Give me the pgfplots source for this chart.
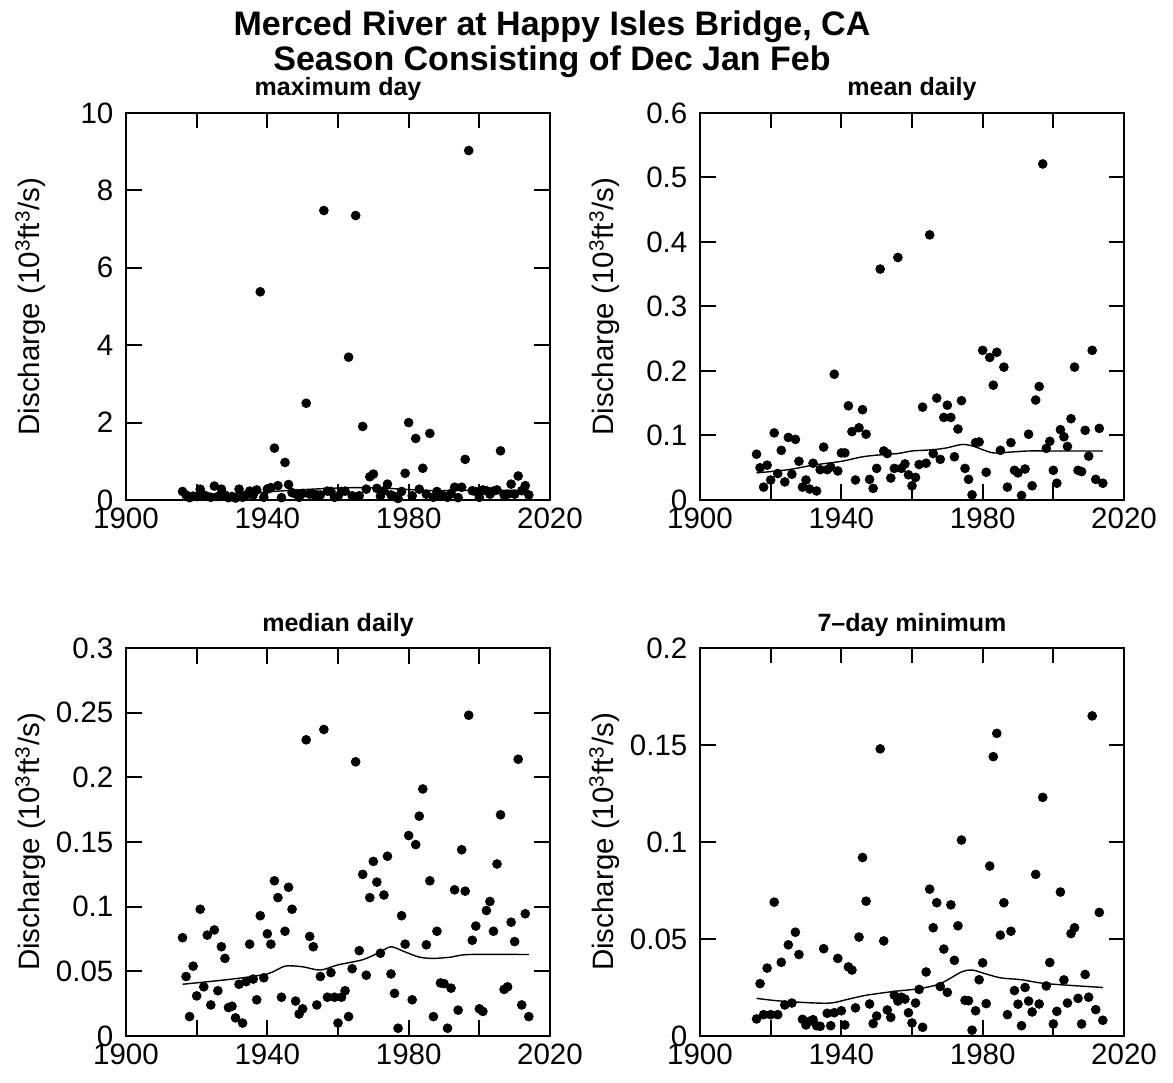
\documentclass[border=0pt]{standalone}
\usepackage{fontspec}
\setmainfont{Liberation Sans}
\usepackage{pgfplots}
\usepackage{pgfplotstable}
\pgfplotsset{compat=1.18}

\pgfplotstableread{
year max mean median min7
1916 0.22 0.071 0.076 0.0088
1917 0.13 0.050 0.046 0.027
1918 0.06 0.020 0.015 0.011
1919 0.10 0.054 0.054 0.035
1920 0.09 0.031 0.031 0.011
1921 0.28 0.104 0.098 0.069
1922 0.13 0.041 0.038 0.011
1923 0.09 0.077 0.078 0.038
1924 0.07 0.028 0.024 0.016
1925 0.36 0.097 0.082 0.047
1926 0.09 0.040 0.035 0.017
1927 0.28 0.094 0.069 0.0535
1928 0.13 0.060 0.060 0.042
1929 0.06 0.020 0.022 0.0086
1930 0.09 0.031 0.023 0.0057
1931 0.05 0.017 0.014 0.0076
1932 0.28 0.057 0.040 0.0084
1933 0.07 0.014 0.010 0.0053
1934 0.13 0.047 0.042 0.005
1935 0.23 0.082 0.071 0.045
1936 0.13 0.047 0.044 0.0117
1937 0.26 0.051 0.028 0.0053
1938 5.38 0.195 0.093 0.012
1939 0.07 0.045 0.045 0.040
1940 0.28 0.073 0.079 0.013
1941 0.32 0.073 0.071 0.0057
1942 1.34 0.146 0.120 0.0356
1943 0.37 0.106 0.107 0.034
1944 0.06 0.031 0.030 0.0145
1945 0.97 0.112 0.081 0.051
1946 0.40 0.140 0.115 0.092
1947 0.19 0.102 0.098 0.0695
1948 0.16 0.032 0.027 0.0165
1949 0.07 0.018 0.017 0.0064
1950 0.17 0.049 0.021 0.0103
1951 2.50 0.358 0.229 0.148
1952 0.15 0.076 0.077 0.049
1953 0.15 0.072 0.069 0.0134
1954 0.13 0.034 0.024 0.0096
1955 0.13 0.049 0.046 0.021
1956 7.48 0.376 0.237 0.018
1957 0.23 0.049 0.030 0.020
1958 0.22 0.056 0.049 0.019
1959 0.07 0.039 0.030 0.012
1960 0.09 0.022 0.010 0.0067
1961 0.22 0.035 0.030 0.017
1962 0.23 0.055 0.035 0.024
1963 3.69 0.144 0.015 0.0045
1964 0.11 0.057 0.052 0.033
1965 7.35 0.411 0.212 0.0757
1966 0.11 0.072 0.066 0.0558
1967 1.90 0.158 0.125 0.0687
1968 0.28 0.063 0.047 0.0255
1969 0.60 0.128 0.107 0.0448
1970 0.67 0.147 0.135 0.0225
1971 0.30 0.128 0.119 0.0676
1972 0.10 0.067 0.064 0.039
1973 0.24 0.110 0.109 0.0568
1974 0.41 0.154 0.139 0.101
1975 0.13 0.049 0.048 0.0184
1976 0.09 0.032 0.033 0.0182
1977 0.04 0.008 0.006 0.003
1978 0.22 0.089 0.093 0.013
1979 0.69 0.090 0.071 0.029
1980 2.00 0.232 0.155 0.0377
1981 0.11 0.043 0.028 0.0167
1982 1.59 0.221 0.148 0.0876
1983 0.28 0.178 0.170 0.144
1984 0.82 0.229 0.191 0.156
1985 0.15 0.077 0.0705 0.052
1986 1.72 0.206 0.120 0.0687
1987 0.07 0.020 0.015 0.011
1988 0.22 0.089 0.081 0.054
1989 0.13 0.046 0.041 0.0234
1990 0.10 0.042 0.0405 0.0164
1991 0.07 0.007 0.006 0.0053
1992 0.17 0.048 0.037 0.025
1993 0.33 0.102 0.113 0.018
1994 0.06 0.022 0.020 0.0124
1995 0.33 0.155 0.144 0.0833
1996 1.05 0.176 0.112 0.0165
1997 9.03 0.521 0.248 0.123
1998 0.24 0.080 0.074 0.0258
1999 0.22 0.091 0.085 0.0379
2000 0.07 0.046 0.021 0.0062
2001 0.26 0.026 0.019 0.0127
2002 0.24 0.109 0.097 0.0742
2003 0.15 0.098 0.104 0.0289
2004 0.23 0.083 0.081 0.017
2005 0.26 0.126 0.133 0.0528
2006 1.27 0.206 0.171 0.0558
2007 0.13 0.046 0.036 0.0194
2008 0.15 0.044 0.038 0.0062
2009 0.41 0.108 0.088 0.0317
2010 0.15 0.068 0.073 0.020
2011 0.62 0.232 0.214 0.165
2012 0.24 0.032 0.024 0.0136
2013 0.37 0.111 0.0945 0.0637
2014 0.13 0.026 0.015 0.0081
}\flow

\pgfplotsset{
  panel/.style={
    scale only axis, width=212pt, height=193.5pt,
    xmin=1900, xmax=2020,
    xtick={1900,1920,...,2020},
    xticklabels={1900,,1940,,1980,,2020},
    tick align=inside, tick pos=both,
    major tick length=7.75pt,
    axis line style={line width=1pt},
    every tick/.style={black, line width=1pt},
    tick label style={font=\fontsize{14.75}{17}\selectfont},
    xticklabel style={yshift=-0.5pt},
    yticklabel style={xshift=-2.8pt},
    ylabel={Discharge (10\textsuperscript{3}ft\textsuperscript{3}/s)},
    ylabel style={at={(axis description cs:-0.225,0.5)}, anchor=center, font=\fontsize{14.75}{17}\selectfont},
    title style={at={(axis description cs:0.5,1)}, anchor=base, yshift=2.5pt, font=\bfseries\fontsize{12.5}{15}\selectfont},
  },
  dots/.style={only marks, mark=*, mark size=2.2pt, black},
  trend/.style={no marks, smooth, black, line width=0.7pt},
}

\begin{document}
\begin{tikzpicture}
\useasboundingbox (0,0) rectangle (586.5pt,541pt);
\node[anchor=base, font=\bfseries\fontsize{17}{20}\selectfont] at (276pt,523pt) {Merced River at Happy Isles Bridge, CA};
\node[anchor=base, font=\bfseries\fontsize{17}{20}\selectfont] at (276pt,505.5pt) {Season Consisting of Dec Jan Feb};

\begin{axis}[panel, at={(63pt,291pt)}, anchor=south west,
  title={maximum day}, ymin=0, ymax=10, ytick={0,2,4,6,8,10}, yticklabels={0,2,4,6,8,10}]
\addplot[dots] table[x=year, y=max] {\flow};
\addplot[trend] coordinates {(1916,0.14)(1925,0.15)(1935,0.18)(1945,0.24)(1955,0.29)(1965,0.32)(1972,0.31)(1980,0.27)(1988,0.24)(1995,0.25)(2005,0.25)(2014,0.25)};
\end{axis}

\begin{axis}[panel, at={(350pt,291pt)}, anchor=south west,
  title={mean daily}, ymin=0, ymax=0.6, ytick={0,0.1,0.2,0.3,0.4,0.5,0.6}, yticklabels={0,0.1,0.2,0.3,0.4,0.5,0.6}]
\addplot[dots] table[x=year, y=mean] {\flow};
\addplot[trend] coordinates {(1916,0.042)(1925,0.047)(1932,0.054)(1940,0.060)(1946,0.067)(1951,0.070)(1956,0.072)(1960,0.076)(1966,0.078)(1970,0.081)(1974,0.086)(1977,0.084)(1980,0.078)(1983,0.073)(1987,0.074)(1993,0.076)(2000,0.076)(2014,0.076)};
\end{axis}

\begin{axis}[panel, at={(63pt,23pt)}, anchor=south west, height=194pt,
  title={median daily}, ymin=0, ymax=0.3, ytick={0,0.05,0.1,0.15,0.2,0.25,0.3}, yticklabels={0,0.05,0.1,0.15,0.2,0.25,0.3}]
\addplot[dots] table[x=year, y=median] {\flow};
\addplot[trend] coordinates {(1916,0.040)(1930,0.044)(1940,0.048)(1945,0.054)(1950,0.0535)(1955,0.051)(1960,0.055)(1967,0.059)(1972,0.065)(1975,0.069)(1979,0.065)(1983,0.061)(1987,0.060)(1992,0.061)(1997,0.063)(2014,0.063)};
\end{axis}

\begin{axis}[panel, at={(350pt,23pt)}, anchor=south west, height=194pt,
  title={7--day minimum}, ymin=0, ymax=0.2, ytick={0,0.05,0.1,0.15,0.2}, yticklabels={0,0.05,0.1,0.15,0.2}]
\addplot[dots] table[x=year, y=min7] {\flow};
\addplot[trend] coordinates {(1916,0.0194)(1923,0.018)(1936,0.0169)(1942,0.019)(1947,0.021)(1955,0.023)(1962,0.0244)(1968,0.027)(1974,0.033)(1977,0.034)(1980,0.0325)(1985,0.030)(1991,0.029)(1998,0.027)(2014,0.025)};
\end{axis}
\end{tikzpicture}
\end{document}
